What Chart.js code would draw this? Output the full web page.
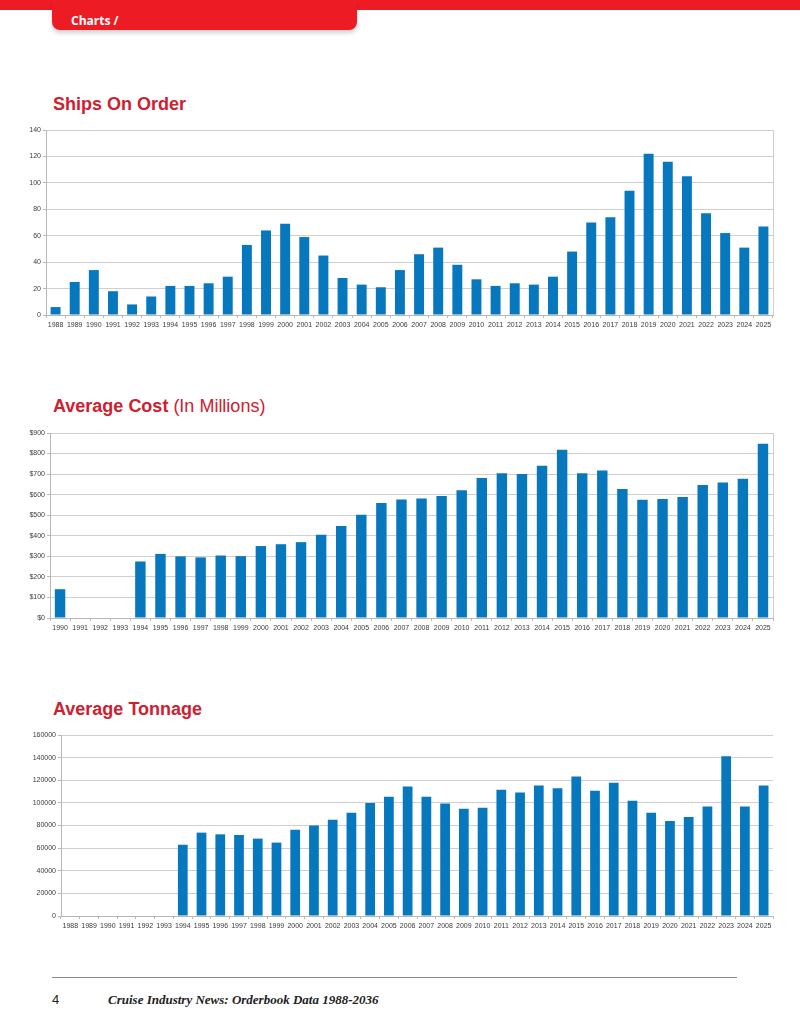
<!DOCTYPE html>
<html><head><meta charset="utf-8">
<script src="https://cdn.jsdelivr.net/npm/chart.js@4.4.1/dist/chart.umd.min.js"></script>
<style>
html,body{margin:0;padding:0;background:#fff;}
body{width:800px;height:1016px;position:relative;overflow:hidden;font-family:"Liberation Sans",Arial,sans-serif;}
.band{position:absolute;left:0;top:0;width:800px;height:10px;background:#ed1c24;}
.tab{position:absolute;left:52px;top:0;width:305px;height:30px;background:#ed1c24;border-radius:0 0 8px 8px;box-shadow:0 3px 4px rgba(0,0,0,0.18);}
.tab span{position:absolute;left:19px;top:15px;line-height:12px;color:#fff;font-weight:bold;font-size:12px;font-family:"Open Sans",sans-serif;}
.title{position:absolute;left:53px;color:#cf2030;font-weight:bold;font-size:18px;line-height:18px;font-family:"Liberation Sans",Arial,sans-serif;white-space:nowrap;}
.title .reg{font-weight:normal;}
canvas{position:absolute;}
.rule{position:absolute;left:52px;top:977px;width:685px;height:0;border-top:1.5px solid #8a8a8a;}
.pg{position:absolute;left:52px;top:993px;line-height:14px;font-size:13px;font-family:"Liberation Sans",Arial,sans-serif;color:#222;}
.foot{position:absolute;left:108px;top:993px;line-height:14px;font-style:italic;font-weight:bold;font-size:13px;font-family:"Liberation Serif","Times New Roman",serif;color:#222;white-space:nowrap;}
</style>
</head>
<body>
<div class="band"></div>
<div class="tab"><span>Charts /</span></div>

<div class="title" style="top:95px">Ships On Order</div>
<canvas id="c1" width="770" height="215" style="left:10px;top:122px"></canvas>

<div class="title" style="top:397px">Average Cost <span class="reg">(In Millions)</span></div>
<canvas id="c2" width="770" height="215" style="left:10px;top:425px"></canvas>

<div class="title" style="top:700px">Average Tonnage</div>
<canvas id="c3" width="770" height="211" style="left:10px;top:727px"></canvas>

<div class="rule"></div>
<div class="pg">4</div>
<div class="foot">Cruise Industry News: Orderbook Data 1988-2036</div>

<script>
// ---------- DATA ----------
const years1 = ['1988','1989','1990','1991','1992','1993','1994','1995','1996','1997','1998','1999','2000','2001','2002','2003','2004','2005','2006','2007','2008','2009','2010','2011','2012','2013','2014','2015','2016','2017','2018','2019','2020','2021','2022','2023','2024','2025'];
const shipsOnOrder = [6,25,34,18,8,14,22,22,24,29,53,64,69,59,45,28,23,21,34,46,51,38,27,22,24,23,29,48,70,74,94,122,116,105,77,62,51,67];
const yTicks1 = [0,20,40,60,80,100,120,140];

const years2 = ['1990','1991','1992','1993','1994','1995','1996','1997','1998','1999','2000','2001','2002','2003','2004','2005','2006','2007','2008','2009','2010','2011','2012','2013','2014','2015','2016','2017','2018','2019','2020','2021','2022','2023','2024','2025'];
const averageCost = [140,null,null,null,275,312,300,295,304,301,350,359,369,405,447,502,560,576,581,594,622,681,704,701,741,819,704,717,628,575,579,589,647,659,678,848];
const yTicks2 = [0,100,200,300,400,500,600,700,800,900];

const years3 = ['1988','1989','1990','1991','1992','1993','1994','1995','1996','1997','1998','1999','2000','2001','2002','2003','2004','2005','2006','2007','2008','2009','2010','2011','2012','2013','2014','2015','2016','2017','2018','2019','2020','2021','2022','2023','2024','2025'];
const averageTonnage = [null,null,null,null,null,null,63000,73700,72200,71600,68400,64900,76300,79900,85100,91300,99800,105400,114500,105400,99500,94800,95700,111600,109200,115400,113000,123300,110700,117700,101900,91300,84000,87500,96900,141200,96900,115400];
const yTicks3 = [0,20000,40000,60000,80000,100000,120000,140000,160000];

// ---------- RENDER ----------
const BAR = '#0878be';
const GRID = '#cfcfcf';
const AXIS = '#b8b8b8';
const TXT = '#3a3a3a';
const FONT = {family:'"Liberation Sans", Arial, sans-serif', size:7};

const rightBorder = {
  id:'rightBorder',
  afterDraw(chart, args, opts){
    if(!opts || !opts.show) return;
    const {ctx, chartArea:a} = chart;
    ctx.save();
    ctx.strokeStyle = opts.color || GRID;
    ctx.lineWidth = 1;
    ctx.beginPath();
    ctx.moveTo(Math.round(a.right)+0.5, a.top);
    ctx.lineTo(Math.round(a.right)+0.5, a.bottom);
    ctx.stroke();
    ctx.restore();
  }
};

function makeChart(id, labels, values, ticks, fmt, yWidth, showRight){
  new Chart(document.getElementById(id), {
    type:'bar',
    data:{labels:labels, datasets:[{data:values, backgroundColor:BAR, borderWidth:0, barPercentage:0.52, categoryPercentage:1.0}]},
    options:{
      responsive:false, animation:false, devicePixelRatio:1,
      layout:{padding:{left:0,right:7,top:8,bottom:0}},
      plugins:{legend:{display:false}, tooltip:{enabled:false}, rightBorder:{show:showRight, color:GRID}},
      scales:{
        x:{
          offset:true,
          grid:{display:true, drawOnChartArea:false, drawTicks:true, tickLength:3, color:AXIS, offset:true},
          border:{display:true, color:AXIS, width:1},
          ticks:{autoSkip:false, maxRotation:0, minRotation:0, padding:3, color:TXT, font:FONT},
          afterFit(s){ s.height = 22; }
        },
        y:{
          min:ticks[0], max:ticks[ticks.length-1],
          afterBuildTicks(s){ s.ticks = ticks.map(v=>({value:v})); },
          grid:{display:true, color:GRID, lineWidth:1, drawTicks:true, tickLength:3, tickColor:AXIS},
          border:{display:true, color:AXIS, width:1},
          ticks:{padding:2, color:TXT, font:FONT, callback:(v)=>fmt(v)},
          afterFit(s){ s.width = yWidth; }
        }
      }
    },
    plugins:[rightBorder]
  });
}

makeChart('c1', years1, shipsOnOrder, yTicks1, v=>String(v), 36, true);
makeChart('c2', years2, averageCost, yTicks2, v=>'$'+v, 40, true);
makeChart('c3', years3, averageTonnage, yTicks3, v=>String(v), 51, false);
</script>
</body></html>
